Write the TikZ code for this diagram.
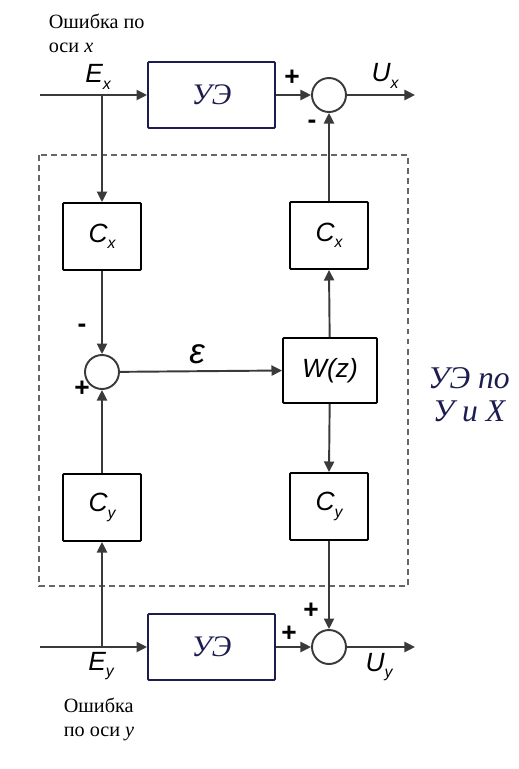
\documentclass[tikz,border=0pt]{standalone}
\usepackage{fontspec}
\setmainfont{Liberation Serif}
\setsansfont{Liberation Sans}
\usepackage{xcolor}
\usetikzlibrary{arrows.meta}
\definecolor{linegray}{HTML}{3A3A3A}
\definecolor{navy}{HTML}{1C1C50}
\newcommand{\idx}[2]{#1\raisebox{-0.45ex}{\small #2}}

\begin{document}
\begin{tikzpicture}
    [
    x=0.02cm, y=-0.02cm,
    line width=1.1pt, linegray,
    >={Triangle[length=6pt,width=5.8pt]},
    blk/.style = {draw=linegray,rounded corners=0.6pt,minimum width=1.56cm,minimum height=1.34cm,inner sep=0pt,font=\sffamily\itshape\fontsize{15}{17}\selectfont,black},
    ueblk/.style = {draw=linegray,rounded corners=0.6pt,minimum width=2.54cm,minimum height=1.32cm,inner sep=0pt,font=\itshape\fontsize{17}{19}\selectfont,navy},
    summ/.style = {draw=linegray,circle,minimum size=0.68cm,inner sep=0pt},
    sgn/.style = {font=\sffamily\bfseries\fontsize{15}{15}\selectfont,black},
    var/.style = {font=\sffamily\itshape\fontsize{15}{17}\selectfont,black},
    note/.style = {font=\fontsize{11.5}{13.6}\selectfont,align=left,black}
    ]
\useasboundingbox (0,0) rectangle (519,769);

\draw[dashed,line width=0.9pt,gray!80!black,dash pattern=on 3.4pt off 2.3pt] (39,155) rectangle (408,586);

\node[ueblk] (uex) at (211.5,95) {УЭ};
\node[summ] (sx) at (329,95) {};
\coordinate (inx) at (40,95);
\coordinate (ex) at (102,95);
\coordinate (outx) at (415,95);

\node[blk] (cx1) at (102,236.5) {\idx{C}{x}};
\node[summ] (sl) at (102,372) {};
\node[blk,minimum width=1.88cm,minimum height=1.3cm] (wz) at (330,370.5) {W(z)};
\node[blk] (cx2) at (329,235.5) {\idx{C}{x}};
\node[blk] (cy1) at (102,507.5) {\idx{C}{y}};
\node[blk] (cy2) at (329,506.5) {\idx{C}{y}};

\node[ueblk] (uey) at (211.5,647) {УЭ};
\node[summ] (sy) at (329,647) {};
\coordinate (iny) at (40,647);
\coordinate (ey) at (102,647);
\coordinate (outy) at (415,647);

\draw[->] (inx) -- (uex.west);
\draw[->] (ex) -- (cx1.north);
\draw[->] (cx1) -- (sl.north);
\draw[->] (sl) -- (wz.west);
\draw[->] (wz) -- (cx2.south);
\draw[->] (cx2) -- (sx.south);
\draw[->] (uex) -- (sx.west);
\draw[->] (sx) -- (outx);

\draw[->] (wz) -- (cy2.north);
\draw[->] (cy2) -- (sy.north);
\draw[->] (ey) -- (cy1.south);
\draw[->] (cy1) -- (sl.south);
\draw[->] (iny) -- (uey.west);
\draw[->] (uey) -- (sy.west);
\draw[->] (sy) -- (outy);

\node[var] (lex) at (98,77) {\idx{E}{x}};
\node[var] (lux) at (385,76) {\idx{U}{x}};
\node[var] (ley) at (101,666) {\idx{E}{y}};
\node[var] (luy) at (379,667) {\idx{U}{y}};
\node[font=\sffamily\itshape\fontsize{20}{20}\selectfont,black] (leps) at (197,354) {ε};

\node[sgn] (p1) at (292,78) {+};
\node[sgn] (m1) at (312,124) {-};
\node[sgn] (m2) at (82,328) {-};
\node[sgn] (p2) at (82,389) {+};
\node[sgn] (p3) at (311,611) {+};
\node[sgn] (p4) at (289,634) {+};

\node[note,anchor=north west] (errx) at (42,7) {Ошибка по\\оси \textit{x}};
\node[note,anchor=north west] (erry) at (57,691) {Ошибка\\по оси \textit{y}};
\node[font=\itshape\fontsize{18}{19}\selectfont,navy,align=center] (uexy) at (469,395) {УЭ по\\У и Х};

\end{tikzpicture}
\end{document}
